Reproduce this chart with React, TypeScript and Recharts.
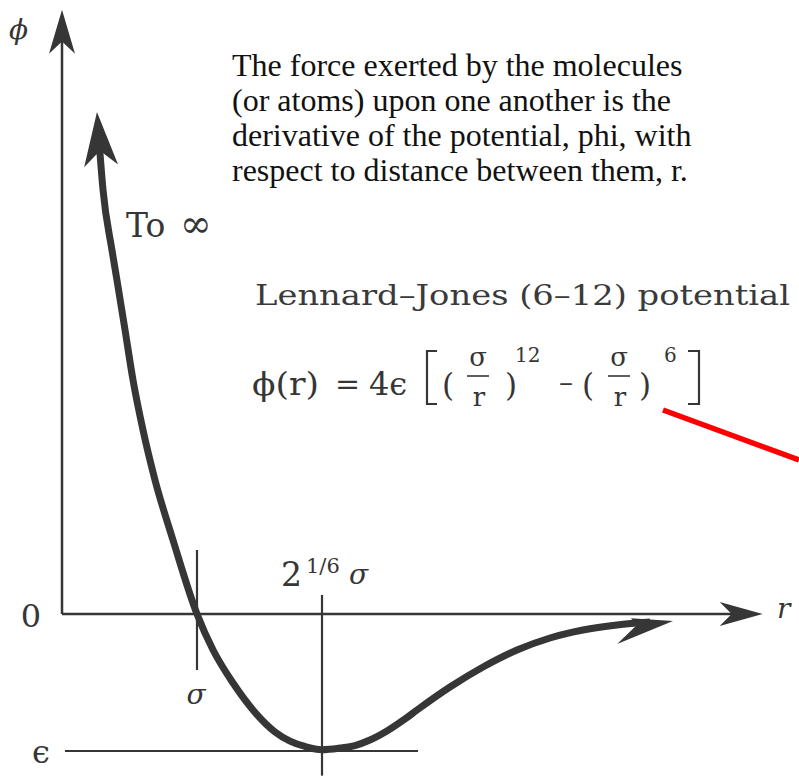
import React from "react";
import {
  ComposedChart,
  Line,
  XAxis,
  YAxis,
  ReferenceLine,
  ReferenceDot,
} from "recharts";

// Separation r (in units of sigma) and potential phi (in units of epsilon) along the sketched curve
const rValues = [
  0.28, 0.304, 0.37, 0.407, 0.467, 0.526, 0.6, 0.689, 0.822, 1.0, 1.119, 1.267, 1.444,
  1.578, 1.689, 1.8, 1.926, 2.059, 2.17, 2.281, 2.407, 2.541, 2.63, 2.874, 3.119, 3.37,
  3.615, 3.859, 4.111, 4.356,
];
const phiValues = [
  3.38, 3.095, 2.657, 2.438, 2.073, 1.708, 1.343, 0.978, 0.54, 0.0, -0.263, -0.504, -0.734,
  -0.861, -0.928, -0.967, -0.99, -0.978, -0.96, -0.92, -0.854, -0.766, -0.701, -0.533,
  -0.387, -0.263, -0.175, -0.117, -0.08, -0.058,
];

// Marked positions on the axes
const sigmaR = 1.0;
const minimumR = 1.926;
const epsilonPhi = -1.0;

// Arrow tips
const upperCurveTip = { r: 0.259, phi: 3.664 };
const rightCurveTip = { r: 4.526, phi: -0.051 };
const phiAxisTip = { r: 0, phi: 4.41 };
const rAxisTip = { r: 5.19, phi: 0 };

// Pointer line next to the formula
const pointerStart = { r: 4.452, phi: 1.489 };
const pointerEnd = { r: 5.459, phi: 1.124 };

const paragraphLines = [
  "The force exerted by the molecules",
  "(or atoms) upon one another is the",
  "derivative of the potential, phi, with",
  "respect to distance between them, r.",
];

const curveData = rValues.map((r, i) => ({ r, phi: phiValues[i] }));

const W = 799;
const H = 776;
const INK = "#363636";
const SERIF = "'DejaVu Serif', serif";
const TIMES = "'Liberation Serif', 'Times New Roman', serif";

type HeadProps = { cx?: number; cy?: number };

const stealth = (angle: number, len: number, half: number, notch = 0.72) =>
  (p: HeadProps) => (
    <path
      d={`M0,0 L${-len},${-half} L${-len * notch},0 L${-len},${half} Z`}
      transform={`translate(${p.cx},${p.cy}) rotate(${angle})`}
      fill={INK}
    />
  );

const halfBarb = (angle: number) => (p: HeadProps) => (
  <path
    d="M0,0 L-42,-5 L-36,2 L-57,20 Z"
    transform={`translate(${p.cx},${p.cy}) rotate(${angle})`}
    fill={INK}
  />
);

const Fraction = ({ x, y }: { x: number; y: number }) => (
  <g>
    <text x={x} y={y - 10} fontSize={26} textAnchor="middle" fontFamily={SERIF} fill={INK}>
      σ
    </text>
    <line x1={x - 11} x2={x + 11} y1={y} y2={y} stroke={INK} strokeWidth={1.6} />
    <text x={x + 1} y={y + 30} fontSize={26} textAnchor="middle" fontFamily={SERIF} fill={INK}>
      r
    </text>
  </g>
);

export default function App() {
  return (
    <div style={{ position: "absolute", left: 0, top: 0, width: W, height: H, background: "#fff" }}>
      <ComposedChart
        width={W}
        height={H}
        data={curveData}
        margin={{ top: 0, right: 0, bottom: 0, left: 0 }}
      >
        <XAxis
          dataKey="r"
          type="number"
          domain={[-62 / 135, 737 / 135]}
          allowDataOverflow
          hide
        />
        <YAxis type="number" domain={[-162 / 137, 614 / 137]} allowDataOverflow hide />

        {/* axes */}
        <ReferenceLine
          segment={[{ x: 0, y: 0 }, { x: 0, y: 4.2 }]}
          stroke={INK}
          strokeWidth={2.5}
        />
        <ReferenceLine
          segment={[{ x: 0, y: 0 }, { x: 4.98, y: 0 }]}
          stroke={INK}
          strokeWidth={2.5}
        />
        <ReferenceDot x={phiAxisTip.r} y={phiAxisTip.phi} r={0} shape={stealth(-90, 44, 13)} />
        <ReferenceDot x={rAxisTip.r} y={rAxisTip.phi} r={0} shape={stealth(0, 43, 12)} />

        {/* sigma, minimum and well-depth markers */}
        <ReferenceLine
          segment={[{ x: sigmaR, y: 0.467 }, { x: sigmaR, y: -0.409 }]}
          stroke={INK}
          strokeWidth={2.2}
        />
        <ReferenceLine
          segment={[{ x: minimumR, y: 0.139 }, { x: minimumR, y: -1.18 }]}
          stroke={INK}
          strokeWidth={2.2}
        />
        <ReferenceLine
          segment={[{ x: 0.022, y: epsilonPhi }, { x: 2.637, y: epsilonPhi }]}
          stroke={INK}
          strokeWidth={2.2}
        />

        <Line
          dataKey="phi"
          type="monotone"
          stroke={INK}
          strokeWidth={7}
          dot={false}
          activeDot={false}
          isAnimationActive={false}
        />
        <ReferenceDot x={upperCurveTip.r} y={upperCurveTip.phi} r={0} shape={stealth(-94.4, 54, 17)} />
        <ReferenceDot x={rightCurveTip.r} y={rightCurveTip.phi} r={0} shape={halfBarb(-3)} />

        <ReferenceLine
          segment={[
            { x: pointerStart.r, y: pointerStart.phi },
            { x: pointerEnd.r, y: pointerEnd.phi },
          ]}
          stroke="#ff0000"
          strokeWidth={5.5}
        />
      </ComposedChart>

      <svg
        width={W}
        height={H}
        style={{ position: "absolute", left: 0, top: 0, pointerEvents: "none" }}
      >
        {/* axis labels */}
        <text x={9} y={39} fontSize={28} fontStyle="italic" fontFamily={SERIF} fill={INK}>
          ϕ
        </text>
        <text x={31} y={627} fontSize={32} textAnchor="middle" fontFamily={SERIF} fill={INK}>
          0
        </text>
        <text x={41} y={763} fontSize={32} textAnchor="middle" fontFamily={SERIF} fill={INK}>
          ϵ
        </text>
        <text x={196} y={704} fontSize={28} fontStyle="italic" textAnchor="middle" fontFamily={SERIF} fill={INK}>
          σ
        </text>
        <text x={281} y={586} fontSize={33} fontFamily={SERIF} fill={INK}>
          2
        </text>
        <text x={306} y={573} fontSize={21} fontFamily={SERIF} fill={INK}>
          1/6
        </text>
        <text x={349} y={584} fontSize={28} fontStyle="italic" fontFamily={SERIF} fill={INK}>
          σ
        </text>
        <text x={777} y={618} fontSize={28} fontStyle="italic" fontFamily={SERIF} fill={INK}>
          r
        </text>
        <text x={126} y={237} fontSize={33} fontFamily={SERIF} fill={INK}>
          To
        </text>
        <text x={180} y={237} fontSize={38} fontFamily={SERIF} fill={INK}>
          ∞
        </text>

        {/* explanatory note */}
        {paragraphLines.map((line, i) => (
          <text key={i} x={232} y={76 + i * 35} fontSize={32} fontFamily={TIMES} fill="#111">
            {line}
          </text>
        ))}

        {/* title and formula */}
        <text
          x={255}
          y={305}
          fontSize={27}
          fontFamily={SERIF}
          fill="#3a3a3a"
          textLength={535}
          lengthAdjust="spacingAndGlyphs"
        >
          Lennard–Jones (6–12) potential
        </text>
        <text
          x={252}
          y={395}
          fontSize={31}
          fontFamily={SERIF}
          fill={INK}
          textLength={67}
          lengthAdjust="spacingAndGlyphs"
        >
          ϕ(r)
        </text>
        <text x={335} y={394} fontSize={30} fontFamily={SERIF} fill={INK}>
          =
        </text>
        <text x={369} y={395} fontSize={32} fontFamily={SERIF} fill={INK}>
          4ϵ
        </text>
        <path d="M437,351 L427,351 L427,404 L437,404" fill="none" stroke={INK} strokeWidth={2.2} />
        <text x={442} y={396} fontSize={31} fontFamily={SERIF} fill={INK}>
          (
        </text>
        <Fraction x={478} y={376} />
        <text x={505} y={396} fontSize={31} fontFamily={SERIF} fill={INK}>
          )
        </text>
        <text x={515} y={362} fontSize={20} fontFamily={SERIF} fill={INK}>
          12
        </text>
        <text x={559} y={392} fontSize={28} fontFamily={SERIF} fill={INK}>
          –
        </text>
        <text x={582} y={396} fontSize={31} fontFamily={SERIF} fill={INK}>
          (
        </text>
        <Fraction x={619} y={376} />
        <text x={639} y={396} fontSize={31} fontFamily={SERIF} fill={INK}>
          )
        </text>
        <text x={664} y={362} fontSize={20} fontFamily={SERIF} fill={INK}>
          6
        </text>
        <path d="M688,351 L699,351 L699,404 L688,404" fill="none" stroke={INK} strokeWidth={2.2} />
      </svg>
    </div>
  );
}
